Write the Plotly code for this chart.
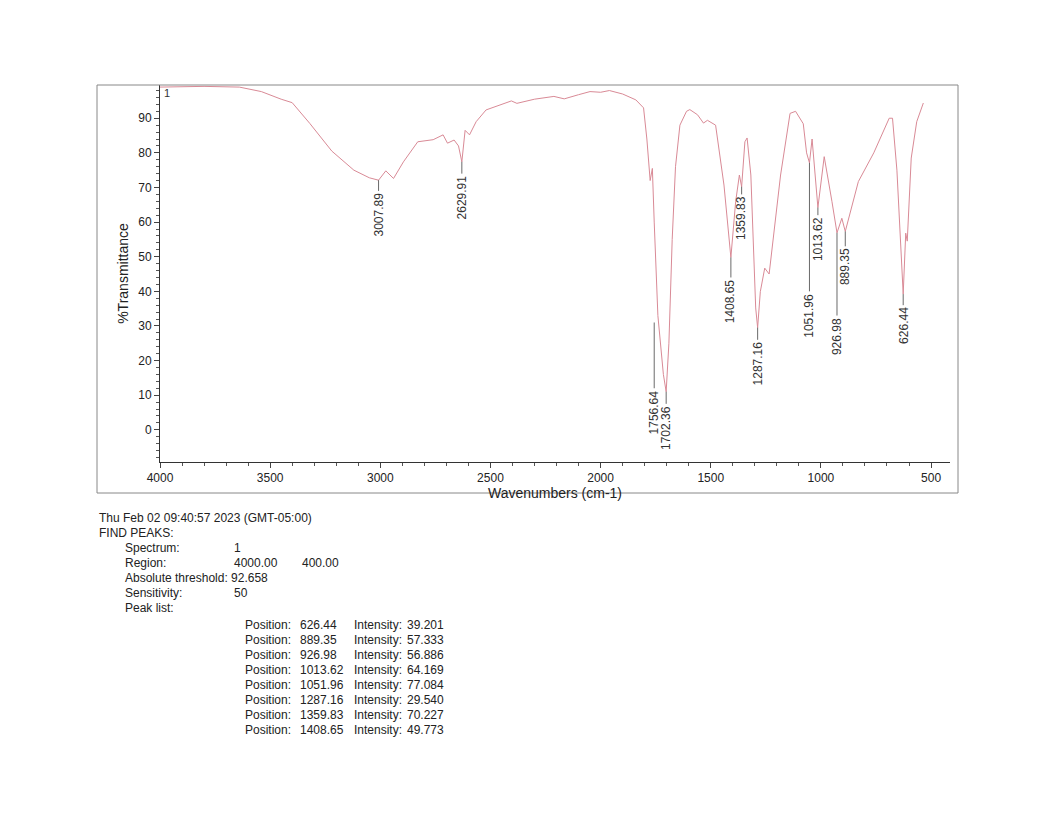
# FTIR spectrum printout (%Transmittance vs wavenumber) with peak labels and peak table
import plotly.graph_objs as go

# spectrum (wavenumber cm-1, %T)
wavenumber = [4000, 3800, 3640, 3540, 3450, 3400, 3320, 3220, 3120, 3050, 3007.89, 2975, 2940, 2895,
              2830, 2760, 2715, 2695, 2665, 2645, 2629.91, 2615, 2595, 2565, 2520, 2450, 2405, 2380, 2300,
              2212, 2165, 2100, 2048, 2000, 1960, 1900, 1840, 1805, 1790, 1775, 1765, 1756.64, 1740, 1715,
              1702.36, 1690, 1675, 1660, 1640, 1610, 1595, 1560, 1533, 1515, 1478, 1440, 1408.65, 1387,
              1370, 1359.83, 1345, 1335, 1318, 1296, 1287.16, 1275, 1255, 1235, 1183, 1140, 1115, 1080,
              1065, 1051.96, 1040, 1013.62, 985, 950, 926.98, 905, 889.35, 830, 760, 690, 675, 655,
              626.44, 615, 608, 590, 565, 535]
transmittance = [99.0, 99.2, 99.0, 97.7, 95.5, 94.5, 88.5, 80.5, 75.0, 72.8, 72.1, 74.8, 72.6, 77.4,
                 83.2, 83.8, 85.2, 82.8, 83.7, 82.0, 77.4, 86.5, 85.2, 89.0, 92.4, 94.0, 95.0, 94.3, 95.5,
                 96.3, 95.6, 96.8, 97.7, 97.5, 98.0, 97.0, 95.3, 93.0, 84.0, 72.0, 75.5, 60.0, 33.0, 16.0,
                 11.0, 25.0, 55.0, 76.0, 88.0, 92.0, 92.5, 91.0, 88.6, 89.4, 88.0, 70.7, 49.8, 65.9,
                 73.6, 70.2, 83.2, 84.3, 73.6, 35.2, 29.5, 39.9, 46.7, 45.0, 73.6, 91.4, 92.0, 88.4,
                 80.0, 77.1, 84.0, 64.2, 78.9, 66.0, 56.9, 61.1, 57.3, 71.7, 80.0, 90.0, 90.0, 75.0,
                 39.2, 56.8, 54.5, 78.5, 89.0, 94.4]

# labelled peaks: position, curve value, where the leader ends / label starts
peak_pos = [3007.89, 2629.91, 1756.64, 1702.36, 1408.65, 1359.83, 1287.16, 1051.96, 1013.62,
            926.98, 889.35, 626.44]
peak_val = [72.1, 77.4, 31.0, 11.0, 49.8, 70.2, 29.5, 77.1, 64.2, 56.9, 57.3, 39.2]
peak_end = [69.0, 74.0, 12.0, 7.5, 44.0, 68.0, 26.0, 40.0, 62.0, 33.0, 53.0, 36.0]

# peak table
tbl_pos = ["626.44", "889.35", "926.98", "1013.62", "1051.96", "1287.16", "1359.83", "1408.65"]
tbl_int = ["39.201", "57.333", "56.886", "64.169", "77.084", "29.540", "70.227", "49.773"]

data = [go.Scatter(x=wavenumber, y=transmittance, mode='lines',
                   line=dict(color='#d98a96', width=1), hoverinfo='x+y')]
for p, v, e in zip(peak_pos, peak_val, peak_end):
    data.append(go.Scatter(x=[p, p], y=[v, e], mode='lines',
                           line=dict(color='#444444', width=0.8), hoverinfo='skip'))

# page pixel -> paper coords (plot area spans 160..950 x, 85..462 y on the page)
def px(x):
    return (x - 160) / (950 - 160)
def py(y):
    return (462 - y) / (462 - 85)

annots = []
for p, e in zip(peak_pos, peak_end):
    annots.append(dict(x=p, y=e, text='%.2f' % p, textangle=-90, showarrow=False,
                       xanchor='center', yanchor='top', font=dict(size=12, color='#333333')))
annots.append(dict(x=0.0, y=1.0, xref='paper', yref='paper', text='1', showarrow=False,
                   xanchor='left', yanchor='top', xshift=2, font=dict(size=11, color='#333333')))

txt = dict(size=12, color='#222222')
left_lines = [(97, 518, 'Thu Feb 02 09:40:57 2023 (GMT-05:00)'), (97, 533, 'FIND PEAKS:'),
              (123, 548, 'Spectrum:'), (232, 548, '1'),
              (123, 563, 'Region:'), (232, 563, '4000.00'), (300, 563, '400.00'),
              (123, 578, 'Absolute threshold: 92.658'),
              (123, 593, 'Sensitivity:'), (232, 593, '50'),
              (123, 608, 'Peak list:')]
for i, (p, it) in enumerate(zip(tbl_pos, tbl_int)):
    yy = 625 + 15 * i
    left_lines += [(243, yy, 'Position:'), (298, yy, p), (352, yy, 'Intensity:'), (405, yy, it)]
for xx, yy, t in left_lines:
    annots.append(dict(x=px(xx), y=py(yy), xref='paper', yref='paper', text=t,
                       showarrow=False, xanchor='left', yanchor='middle', font=txt))

layout = go.Layout(width=1054, height=813, showlegend=False,
                   margin=dict(l=152, r=112, t=77, b=359),
                   paper_bgcolor='white', plot_bgcolor='white',
                   font=dict(family='Liberation Sans, Arial', size=12, color='#222222'),
                   xaxis=dict(range=[4000, 414], tickvals=[4000, 3500, 3000, 2500, 2000, 1500, 1000, 500],
                              ticks='outside', ticklen=5, showgrid=False, zeroline=False,
                              showline=True, linecolor='#333333', mirror=False,
                              minor=dict(dtick=100, ticks='outside', ticklen=3, tickcolor='#555555'),
                              title=dict(text='Wavenumbers (cm-1)', standoff=2)),
                   yaxis=dict(range=[-9.3, 99.6], tickvals=[0, 10, 20, 30, 40, 50, 60, 70, 80, 90],
                              ticks='outside', ticklen=5, showgrid=False, zeroline=False,
                              showline=True, linecolor='#333333',
                              minor=dict(dtick=2, ticks='outside', ticklen=3, tickcolor='#555555'),
                              title=dict(text='%Transmittance', standoff=6)),
                   annotations=annots,
                   shapes=[dict(type='rect', xref='paper', yref='paper',
                                x0=px(97), x1=px(958), y0=py(493), y1=py(85),
                                line=dict(color='#888888', width=1))])
fig = go.Figure(data=data, layout=layout)
fig.write_html("out.html")
